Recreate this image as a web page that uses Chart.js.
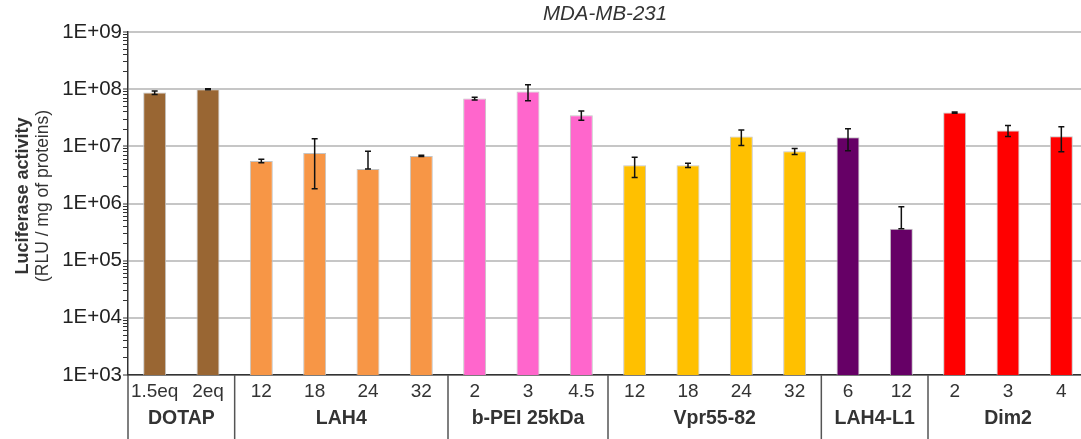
<!DOCTYPE html>
<html>
<head>
<meta charset="utf-8">
<script src="https://cdn.jsdelivr.net/npm/chart.js@4"></script>
<style>
  html, body { margin: 0; padding: 0; background: #fff; overflow: hidden; }
  #wrap { width: 1088px; height: 439px; }
</style>
</head>
<body>
<div id="wrap"><canvas id="chart"></canvas></div>
<script>
// data
const categories = ['1.5eq', '2eq', '12', '18', '24', '32', '2', '3', '4.5', '12', '18', '24', '32', '6', '12', '2', '3', '4'];
const groups = ['DOTAP', 'LAH4', 'b-PEI 25kDa', 'Vpr55-82', 'LAH4-L1', 'Dim2'];
const groupSizes = [2, 4, 3, 4, 2, 3];
const groupColors = ['#996633', '#f79646', '#ff66cc', '#ffc000', '#660066', '#ff0000'];
const values = [8.7e7, 1.0e8, 5.55e6, 7.66e6, 4.0e6, 6.8e6, 6.85e7, 9.1e7, 3.5e7, 4.65e6, 4.65e6, 1.48e7, 8.2e6, 1.44e7, 3.6e5, 3.9e7, 1.9e7, 1.5e7];
const errors = [6e6, 2e6, 4e5, 5.85e6, 4.2e6, 1.5e5, 4e6, 2.8e7, 6.5e6, 1.8e6, 4e5, 4.5e6, 1.0e6, 6e6, 5.2e5, 1e6, 4.2e6, 7e6];
const yMin = 1e3, yMax = 1e9;

const FONT = '"Liberation Sans", Arial, sans-serif';

// one colour per bar, from its group
var barColors = [];
groupSizes.forEach((n, g) => { for (var i = 0; i < n; i++) barColors.push(groupColors[g]); });

function isDecade(v) {
    var e = Math.log10(v);
    return Math.abs(e - Math.round(e)) < 1e-9;
}

const errorBars = {
    id: 'errorBars',
    afterDatasetsDraw(chart) {
        const { ctx, scales: { x, y } } = chart;
        ctx.save();
        ctx.strokeStyle = '#111';
        ctx.lineWidth = 1.5;
        values.forEach((v, i) => {
            var px = x.getPixelForValue(i);
            var top = y.getPixelForValue(v + errors[i]);
            // lower arm not drawn on a log axis when it would go below zero
            var bot = (v - errors[i] > 0) ? y.getPixelForValue(v - errors[i]) : y.getPixelForValue(v);
            ctx.beginPath();
            ctx.moveTo(px, top); ctx.lineTo(px, bot);
            ctx.moveTo(px - 3, top); ctx.lineTo(px + 3, top);
            ctx.moveTo(px - 3, bot); ctx.lineTo(px + 3, bot);
            ctx.stroke();
        });
        ctx.restore();
    }
};

const extraText = {
    id: 'extraText',
    afterDraw(chart) {
        const { ctx, chartArea, scales: { x } } = chart;
        const H = chart.height;
        ctx.save();
        // title over the plot area
        ctx.fillStyle = '#333';
        ctx.font = 'italic 20.5px ' + FONT;
        ctx.textAlign = 'center';
        ctx.textBaseline = 'middle';
        ctx.fillText('MDA-MB-231', (chartArea.left + chartArea.right) / 2 - 3, 14);

        // group separators and names under the category labels
        var half = (x.getPixelForValue(1) - x.getPixelForValue(0)) / 2;
        ctx.strokeStyle = '#555';
        ctx.lineWidth = 1.5;
        ctx.beginPath();
        ctx.moveTo(chartArea.left, chartArea.bottom); ctx.lineTo(chartArea.left, H);
        var idx = 0;
        ctx.font = 'bold 19.5px ' + FONT;
        ctx.fillStyle = '#333';
        groups.forEach((name, g) => {
            var a = x.getPixelForValue(idx) - half;
            idx += groupSizes[g];
            var b = x.getPixelForValue(idx - 1) + half;
            if (g < groups.length - 1) { ctx.moveTo(b, chartArea.bottom); ctx.lineTo(b, H); }
            ctx.fillText(name, (a + b) / 2, 419);
        });
        ctx.stroke();

        // y axis title, two lines
        ctx.fillStyle = '#333';
        ctx.translate(23, 196);
        ctx.rotate(-Math.PI / 2);
        ctx.font = 'bold 18px ' + FONT;
        ctx.fillText('Luciferase activity', 0, 0);
        ctx.font = '17.5px ' + FONT;
        ctx.fillText('(RLU / mg of proteins)', 0, 20);
        ctx.restore();
    }
};

new Chart(document.getElementById('chart'), {
    type: 'bar',
    data: {
        labels: categories,
        datasets: [{
            data: values,
            backgroundColor: barColors,
            borderColor: '#c4c4c4',
            borderWidth: 1,
            barPercentage: 0.43,
            categoryPercentage: 1.0
        }]
    },
    options: {
        responsive: true,
        maintainAspectRatio: false,
        animation: false,
        layout: { padding: { top: 32, left: 0, right: 0, bottom: 0 } },
        plugins: {
            legend: { display: false },
            title: { display: false },
            tooltip: { enabled: false }
        },
        scales: {
            x: {
                grid: { display: false, drawTicks: false },
                border: { color: '#333', width: 1.5 },
                ticks: {
                    autoSkip: false, maxRotation: 0, padding: 5,
                    color: '#333', font: { family: FONT, size: 19 }
                },
                afterFit: s => { s.height = 64; }
            },
            y: {
                type: 'logarithmic',
                min: yMin,
                max: yMax,
                border: { color: '#333', width: 1.5 },
                grid: {
                    color: c => isDecade(c.tick.value) ? '#c6c6c6' : 'rgba(0,0,0,0)',
                    lineWidth: c => isDecade(c.tick.value) ? 2 : 1,
                    tickColor: '#333',
                    tickWidth: 1,
                    tickLength: 5
                },
                ticks: {
                    autoSkip: false, padding: 1,
                    color: '#222', font: { family: FONT, size: 20.5 },
                    callback: v => isDecade(v) ? '1E+' + String(Math.round(Math.log10(v))).padStart(2, '0') : ''
                },
                afterBuildTicks: s => {
                    // keep 1..9 x 10^n only, drop the 1.5 steps
                    s.ticks = s.ticks.filter(t => {
                        var m = t.value / Math.pow(10, Math.floor(Math.log10(t.value) + 1e-9));
                        return Math.abs(m - Math.round(m)) < 1e-6;
                    });
                },
                afterFit: s => { s.width = 128; }
            }
        }
    },
    plugins: [errorBars, extraText]
});
</script>
</body>
</html>
